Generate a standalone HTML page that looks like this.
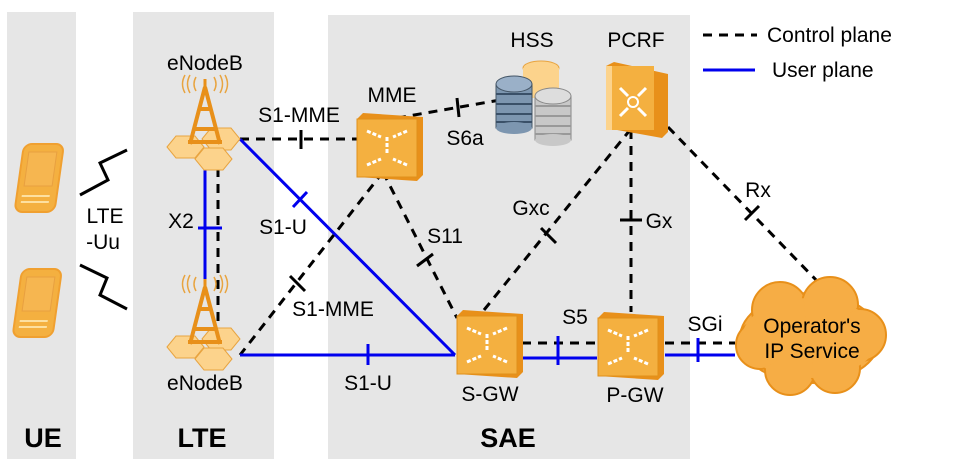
<!DOCTYPE html>
<html><head><meta charset="utf-8"><style>
html,body{margin:0;padding:0;background:#fff}
svg{display:block}
text{font-family:"Liberation Sans",Arial,sans-serif;font-size:21px;fill:#000}
.b{font-weight:bold;font-size:27px}
.c{stroke:#000;stroke-width:3;stroke-dasharray:9,7;fill:none}
.u{stroke:#0000ee;stroke-width:3;fill:none}
.tk{stroke:#000;stroke-width:3}
.tb{stroke:#0000ee;stroke-width:3}
</style></head><body>
<svg width="975" height="464" viewBox="0 0 975 464" xmlns="http://www.w3.org/2000/svg">
<defs>
<g id="enb">
  <polygon points="-73,8 -64,-3 -45,-3 -36,8 -45,19 -64,19" fill="#fcd38c" stroke="#e8a440"/>
  <polygon points="-38,0 -29,-11 -9,-11 0,0 -9,11 -29,11" fill="#fcd38c" stroke="#e8a440"/>
  <polygon points="-45,20 -36,9 -17,9 -8,20 -17,31 -36,31" fill="#fcd38c" stroke="#e8a440"/>
  <path d="M-35,-52 L-50,5 M-35,-52 L-20,5 M-46,-10 L-24,-10 M-52,3 L-18,3 M-41,-30 L-29,-30" stroke="#e8901a" stroke-width="4" fill="none"/>
  <line x1="-35" y1="-60" x2="-35" y2="-48" stroke="#e8901a" stroke-width="3"/>
  <path d="M-44,-62 q-4,7 0,14 M-50,-64 q-5,9 0,18 M-55,-64 q-5,9 0,18 M-26,-62 q4,7 0,14 M-20,-64 q5,9 0,18 M-15,-64 q5,9 0,18" stroke="#e8a440" stroke-width="1.5" fill="none"/>
</g>
<g id="box">
  <polygon points="0,6 6,0 66,4 66,62 60,68 0,64" fill="#e8901a"/>
  <rect x="0" y="6" width="60" height="58" fill="#f4b040" stroke="#e0901a"/>
  <path d="M10,18 l14,6 M50,18 l-14,6 M10,52 l14,-6 M50,52 l-14,-6 M30,24 v18" stroke="#fff" stroke-width="3" stroke-dasharray="4,2"/>
</g>
<g id="phone">
  <rect x="0" y="0" width="40" height="68" rx="8" fill="#f4b040" stroke="#f0a030" stroke-width="2" transform="skewX(-8)"/>
  <rect x="6" y="8" width="28" height="34" fill="#f6b650" stroke="#e8a040" transform="skewX(-8)"/>
  <path d="M5,52 h28 M5,58 h28" stroke="#fde0a0" stroke-width="2" transform="skewX(-8)"/>
</g>
</defs>
<rect x="7" y="12" width="69" height="447" fill="#e6e6e6"/>
<rect x="133" y="12" width="141" height="447" fill="#e6e6e6"/>
<rect x="328" y="15" width="362" height="444" fill="#e6e6e6"/>

<use href="#phone" x="24" y="144"/>
<use href="#phone" x="22" y="269"/>
<polyline points="80,195 108,180 100,163 127,150" fill="none" stroke="#000" stroke-width="3" stroke-linejoin="miter"/>
<polyline points="80,265 107,278 100,295 127,309" fill="none" stroke="#000" stroke-width="3" stroke-linejoin="miter"/>
<text x="105" y="223" text-anchor="middle">LTE</text>
<text x="103" y="249" text-anchor="middle">-Uu</text>

<!-- lines -->
<line class="u" x1="205" y1="168" x2="205" y2="283"/>
<line class="c" x1="218" y1="168" x2="218" y2="330"/>
<line class="tb" x1="198" y1="228" x2="222" y2="228"/>
<line class="c" x1="240" y1="139" x2="358" y2="139"/>
<line class="tk" x1="301" y1="130" x2="301" y2="149"/>
<line class="c" x1="397" y1="118" x2="500" y2="100"/>
<line class="tk" x1="457" y1="98" x2="459" y2="117"/>
<line class="u" x1="240" y1="139" x2="455" y2="355"/>
<line class="tb" x1="293" y1="207" x2="307" y2="192"/>
<line class="c" x1="383" y1="172" x2="240" y2="355"/>
<line class="tk" x1="290" y1="276" x2="305" y2="291"/>
<line class="c" x1="383" y1="172" x2="457" y2="318"/>
<line class="tk" x1="417" y1="266" x2="433" y2="254"/>
<line class="u" x1="240" y1="355" x2="455" y2="355"/>
<line class="tb" x1="368" y1="344" x2="368" y2="365"/>
<line class="c" x1="484" y1="310" x2="630" y2="130"/>
<line class="tk" x1="541" y1="228" x2="556" y2="243"/>
<line class="c" x1="631" y1="130" x2="631" y2="312"/>
<line class="tk" x1="620" y1="220" x2="642" y2="220"/>
<line class="c" x1="668" y1="127" x2="818" y2="282"/>
<line class="tk" x1="745" y1="220" x2="759" y2="206"/>
<line class="c" x1="522" y1="343" x2="597" y2="343"/>
<line class="u" x1="522" y1="358" x2="597" y2="358"/>
<line class="tb" x1="558" y1="336" x2="558" y2="365"/>
<line class="c" x1="665" y1="343" x2="735" y2="343"/>
<line class="u" x1="665" y1="355" x2="735" y2="355"/>
<line class="tb" x1="698" y1="338" x2="698" y2="362"/>

<use href="#enb" x="240" y="139"/>
<use href="#enb" x="240" y="339"/>
<text x="205" y="70" text-anchor="middle">eNodeB</text>
<text x="205" y="390" text-anchor="middle">eNodeB</text>
<text x="181" y="228" text-anchor="middle">X2</text>

<use href="#box" x="357" y="113"/>
<use href="#box" x="457" y="310"/>
<use href="#box" x="598" y="312"/>
<g transform="translate(606,62)">
  <polygon points="0,4 8,0 62,12 62,70 56,76 0,66" fill="#e8901a"/>
  <rect x="0" y="4" width="48" height="64" fill="#f4b040"/>
  <rect x="0" y="4" width="6" height="64" fill="#fcd38c"/>
  <path d="M14,26 l8,8 M40,26 l-8,8 M14,54 l8,-8 M40,54 l-8,-8" stroke="#fff" stroke-width="3"/>
  <circle cx="27" cy="40" r="5" fill="none" stroke="#fff" stroke-width="2"/>
</g>
<!-- HSS -->
<g>
  <ellipse cx="541" cy="68" rx="18" ry="7" fill="#fcd38c" stroke="#e8a440"/>
  <rect x="523" y="68" width="36" height="30" fill="#fcd38c"/>
  <rect x="496" y="84" width="36" height="44" fill="#7d96b0" stroke="#456"/>
  <ellipse cx="514" cy="84" rx="18" ry="8" fill="#9ab0c8" stroke="#456"/>
  <path d="M496,94 h36 M496,104 h36 M496,114 h36 M496,122 h36" stroke="#3a5068" stroke-width="2"/>
  <ellipse cx="514" cy="128" rx="18" ry="6" fill="#7d96b0"/>
  <rect x="535" y="96" width="36" height="44" fill="#c8c8c8" stroke="#888"/>
  <ellipse cx="553" cy="96" rx="18" ry="8" fill="#ddd" stroke="#888"/>
  <path d="M535,106 h36 M535,116 h36 M535,126 h36 M535,134 h36" stroke="#999" stroke-width="2"/>
  <ellipse cx="553" cy="140" rx="18" ry="6" fill="#c8c8c8"/>
</g>
<!-- cloud -->
<g fill="#f6ad45" stroke="#e8901a" stroke-width="2">
  <ellipse cx="810" cy="338" rx="70" ry="45"/>
  <circle cx="780" cy="310" r="28"/><circle cx="830" cy="305" r="28"/>
  <circle cx="760" cy="345" r="24"/><circle cx="860" cy="335" r="26"/>
  <circle cx="790" cy="370" r="25"/><circle cx="835" cy="368" r="25"/>
</g>
<ellipse cx="810" cy="338" rx="68" ry="40" fill="#f6ad45"/>
<circle cx="780" cy="312" r="26" fill="#f6ad45"/><circle cx="830" cy="307" r="26" fill="#f6ad45"/>
<circle cx="790" cy="368" r="23" fill="#f6ad45"/><circle cx="835" cy="366" r="23" fill="#f6ad45"/>
<circle cx="761" cy="345" r="22" fill="#f6ad45"/><circle cx="859" cy="335" r="24" fill="#f6ad45"/>
<text x="812" y="333" text-anchor="middle">Operator's</text>
<text x="812" y="358" text-anchor="middle">IP Service</text>

<text x="299" y="122" text-anchor="middle">S1-MME</text>
<text x="392" y="102" text-anchor="middle">MME</text>
<text x="465" y="145" text-anchor="middle">S6a</text>
<text x="532" y="47" text-anchor="middle">HSS</text>
<text x="636" y="47" text-anchor="middle">PCRF</text>
<text x="283" y="234" text-anchor="middle">S1-U</text>
<text x="333" y="316" text-anchor="middle">S1-MME</text>
<text x="445" y="243" text-anchor="middle">S11</text>
<text x="531" y="215" text-anchor="middle">Gxc</text>
<text x="659" y="228" text-anchor="middle">Gx</text>
<text x="758" y="197" text-anchor="middle">Rx</text>
<text x="575" y="324" text-anchor="middle">S5</text>
<text x="705" y="331" text-anchor="middle">SGi</text>
<text x="368" y="390" text-anchor="middle">S1-U</text>
<text x="490" y="401" text-anchor="middle">S-GW</text>
<text x="635" y="402" text-anchor="middle">P-GW</text>

<line class="c" x1="703" y1="35" x2="757" y2="35" stroke-dasharray="8,5"/>
<text x="767" y="42">Control plane</text>
<line class="u" x1="703" y1="70" x2="755" y2="70"/>
<text x="772" y="77">User plane</text>

<text class="b" x="43" y="447" text-anchor="middle">UE</text>
<text class="b" x="202" y="447" text-anchor="middle">LTE</text>
<text class="b" x="508" y="447" text-anchor="middle">SAE</text>
</svg>
</body></html>
